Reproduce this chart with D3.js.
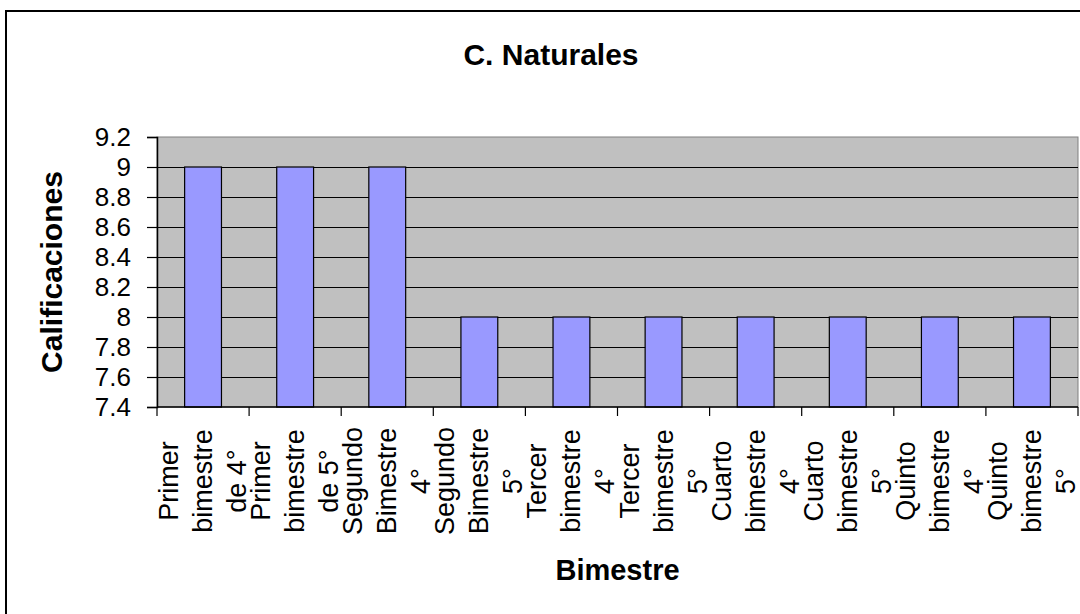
<!DOCTYPE html>
<html>
<head>
<meta charset="utf-8">
<script src="https://cdn.jsdelivr.net/npm/d3@7"></script>
<style>
  body { margin: 0; background: #fff; }
  text { font-family: "Liberation Sans", Arial, sans-serif; fill: #000; }
</style>
</head>
<body>
<div id="chart"></div>
<script>
var outerWidth = 1080, outerHeight = 614

var margins = {top: 137, right: 2, bottom: 207, left: 157}

var innerWidth = outerWidth - margins.left - margins.right
var innerHeight = outerHeight - margins.top - margins.bottom

// data
var categories = ["Primer bimestre de 4°", "Primer bimestre de 5°", "Segundo Bimestre 4°", "Segundo Bimestre 5°",
                  "Tercer bimestre 4°", "Tercer bimestre 5°", "Cuarto bimestre 4°", "Cuarto bimestre 5°",
                  "Quinto bimestre 4°", "Quinto bimestre 5°"]
var grades = [9, 9, 9, 8, 8, 8, 8, 8, 8, 8]
var yTicks = [7.4, 7.6, 7.8, 8, 8.2, 8.4, 8.6, 8.8, 9, 9.2]

var chartTitle = "C. Naturales"
var xTitle = "Bimestre"
var yTitle = "Calificaciones"

var svg = d3.select("#chart").append("svg")
    .attr("width", outerWidth)
    .attr("height", outerHeight)

// chart frame (runs off the right and bottom of the picture)
svg.append("rect")
    .attr("x", 6).attr("y", 11)
    .attr("width", 1200).attr("height", 800)
    .attr("fill", "none")
    .attr("stroke", "#000")
    .attr("stroke-width", 2)

var plot = svg.append("g")
    .attr("transform", "translate(" + margins.left + "," + margins.top + ")")

var xScale = d3.scaleBand().domain(categories).range([margins.left, margins.left + innerWidth])
var yScale = d3.scaleLinear().domain([7.4, 9.2]).range([margins.top + innerHeight, margins.top])

// plot area
svg.append("rect")
    .attr("x", margins.left).attr("y", margins.top)
    .attr("width", innerWidth)
    .attr("height", innerHeight)
    .attr("fill", "#c0c0c0")
    .attr("stroke", "#808080")
    .attr("stroke-width", 1)

// gridlines
svg.selectAll(".grid")
    .data(yTicks.filter(d => d > 7.4 && d < 9.2))
    .enter()
    .append("line")
    .attr("x1", margins.left).attr("x2", margins.left + innerWidth)
    .attr("y1", d => Math.round(yScale(d)) + 0.5)
    .attr("y2", d => Math.round(yScale(d)) + 0.5)
    .attr("stroke", "#000")
    .attr("stroke-width", 1.2)

// bars
var barW = xScale.bandwidth() * 0.4
svg.selectAll(".bar")
    .data(grades)
    .enter()
    .append("rect")
    .attr("x", (d, i) => xScale(categories[i]) + (xScale.bandwidth() - barW) / 2)
    .attr("y", d => yScale(d))
    .attr("width", barW)
    .attr("height", d => yScale(7.4) - yScale(d))
    .attr("fill", "#9999ff")
    .attr("stroke", "#000")
    .attr("stroke-width", 1.2)

// y axis (tick marks from d3, labels placed in page coordinates)
var yAxis = d3.axisLeft(yScale)
    .tickValues(yTicks)
    .tickSize(10)
    .tickFormat("")

var yAxisG = svg.append("g")
    .attr("transform", "translate(" + margins.left + ",0)")
    .call(yAxis)
yAxisG.select(".domain").attr("stroke", "#000").attr("stroke-width", 1.5)
yAxisG.selectAll(".tick line").attr("stroke", "#000").attr("stroke-width", 1.2)

svg.selectAll(".ylabel")
    .data(yTicks)
    .enter()
    .append("text")
    .attr("x", margins.left - 26)
    .attr("y", d => yScale(d))
    .attr("dy", "0.35em")
    .attr("text-anchor", "end")
    .attr("font-size", "26px")
    .text(d => d3.format("")(+d.toFixed(1)))

// x axis: tick marks at category boundaries
var base = yScale(7.4)
svg.append("line")
    .attr("x1", margins.left).attr("x2", margins.left + innerWidth)
    .attr("y1", base).attr("y2", base)
    .attr("stroke", "#000").attr("stroke-width", 1.5)

var bounds = categories.map(c => xScale(c)).concat([margins.left + innerWidth])
svg.selectAll(".xtick")
    .data(bounds)
    .enter()
    .append("line")
    .attr("x1", d => d).attr("x2", d => d)
    .attr("y1", base).attr("y2", base + 9)
    .attr("stroke", "#000").attr("stroke-width", 1.2)

// wrapped, rotated category labels
var lineGap = 34
var maxLineWidth = 110
var labelY = 481
var measure = svg.append("text").attr("font-size", "27px")

function wrap(label) {
    var words = label.split(" "), lines = [], cur = ""
    words.forEach(function(w) {
        var test = cur ? cur + " " + w : w
        measure.text(test)
        if (cur && measure.node().getComputedTextLength() > maxLineWidth) {
            lines.push(cur)
            cur = w
        } else {
            cur = test
        }
    })
    if (cur) lines.push(cur)
    return lines
}

categories.forEach(function(c) {
    var lines = wrap(c)
    var cx = xScale(c) + xScale.bandwidth() / 2
    lines.forEach(function(l, j) {
        var lx = cx + (j - (lines.length - 1) / 2) * lineGap
        svg.append("text")
            .attr("x", lx).attr("y", labelY)
            .attr("transform", "rotate(-90," + lx + "," + labelY + ")")
            .attr("text-anchor", "middle")
            .attr("dominant-baseline", "central")
            .attr("font-size", "27px")
            .text(l)
    })
})
measure.remove()

// titles
svg.append("text")
    .attr("x", 551).attr("y", 65)
    .attr("text-anchor", "middle")
    .attr("font-size", "30px")
    .attr("font-weight", "bold")
    .text(chartTitle)

svg.append("text")
    .attr("x", margins.left + innerWidth / 2).attr("y", 580)
    .attr("text-anchor", "middle")
    .attr("font-size", "29px")
    .attr("font-weight", "bold")
    .text(xTitle)

var yTitleY = margins.top + innerHeight / 2
svg.append("text")
    .attr("x", 62).attr("y", yTitleY)
    .attr("transform", "rotate(-90,62," + yTitleY + ")")
    .attr("text-anchor", "middle")
    .attr("font-size", "30px")
    .attr("font-weight", "bold")
    .text(yTitle)
</script>
</body>
</html>
